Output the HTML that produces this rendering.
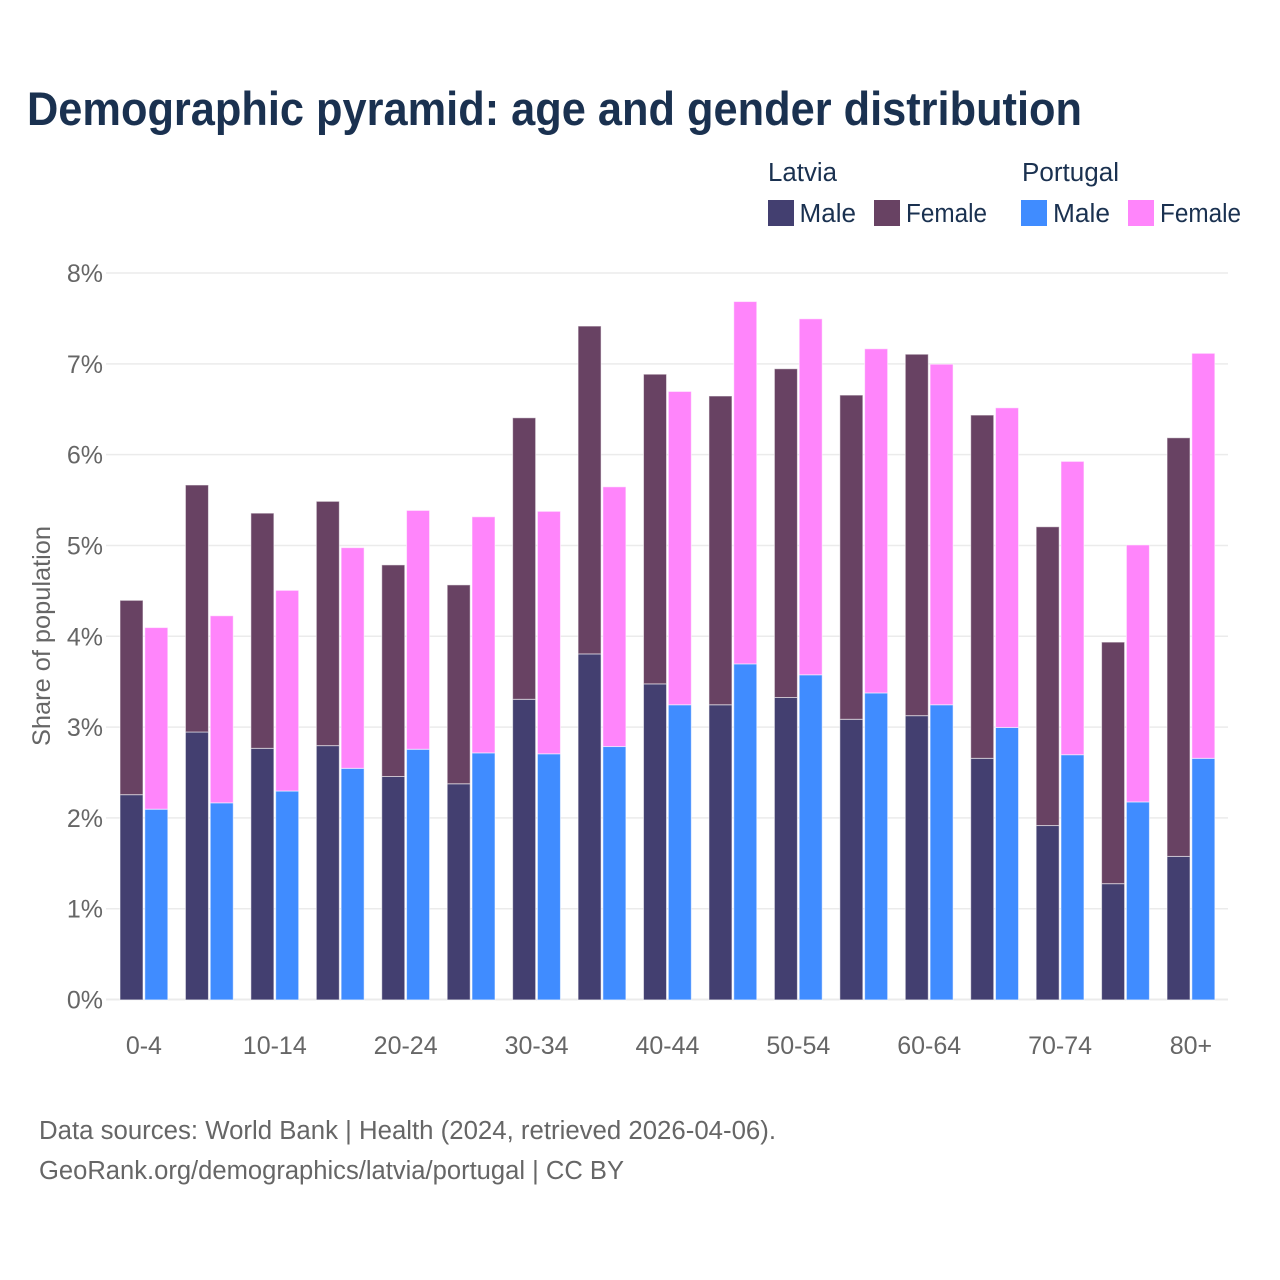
<!DOCTYPE html>
<html lang="en">
<head>
<meta charset="utf-8">
<title>Demographic pyramid</title>
<style>
html,body{margin:0;padding:0;background:#fff;width:1280px;height:1280px;overflow:hidden}
svg{display:block}
text{font-family:"Liberation Sans",sans-serif}
.legend{fill:#1a3150;font-size:25.5px}
.tick{fill:#666;font-size:25px}
.note{fill:#666;font-size:25.5px}
</style>
</head>
<body>
<svg id="chart" xmlns="http://www.w3.org/2000/svg" width="1280" height="1280" viewBox="0 0 1280 1280">
  <rect x="0" y="0" width="1280" height="1280" fill="#ffffff"/>
  <text x="27" y="125" font-size="47" font-weight="700" fill="#1a3150" textLength="1055" lengthAdjust="spacingAndGlyphs">Demographic pyramid: age and gender distribution</text>

  <g>
    <text class="legend" x="768" y="181" textLength="69" lengthAdjust="spacingAndGlyphs">Latvia</text>
    <text class="legend" x="1022" y="181" textLength="97" lengthAdjust="spacingAndGlyphs">Portugal</text>
    <rect x="768" y="200" width="26" height="26" fill="#433f70"/>
    <text class="legend" x="799.5" y="222" textLength="56.5" lengthAdjust="spacingAndGlyphs">Male</text>
    <rect x="874" y="200" width="26" height="26" fill="#684263"/>
    <text class="legend" x="906" y="222" textLength="81" lengthAdjust="spacingAndGlyphs">Female</text>
    <rect x="1021" y="200" width="26" height="26" fill="#408cff"/>
    <text class="legend" x="1053" y="222" textLength="57" lengthAdjust="spacingAndGlyphs">Male</text>
    <rect x="1128" y="200" width="26" height="26" fill="#ff85fb"/>
    <text class="legend" x="1160" y="222" textLength="81" lengthAdjust="spacingAndGlyphs">Female</text>
  </g>

  <g id="grid"></g>
  <g id="bars"></g>
  <g id="yticks"></g>
  <g id="xticks"></g>

  <text class="tick" transform="translate(50,636) rotate(-90)" text-anchor="middle" textLength="220" lengthAdjust="spacingAndGlyphs">Share of population</text>

  <text class="note" x="39" y="1139" textLength="737" lengthAdjust="spacingAndGlyphs">Data sources: World Bank | Health (2024, retrieved 2026-04-06).</text>
  <text class="note" x="39" y="1179" textLength="585" lengthAdjust="spacingAndGlyphs">GeoRank.org/demographics/latvia/portugal | CC BY</text>
</svg>
<script>
const categories = ["0-4","5-9","10-14","15-19","20-24","25-29","30-34","35-39","40-44","45-49","50-54","55-59","60-64","65-69","70-74","75-79","80+"];
const latviaMale = [2.26,2.95,2.77,2.80,2.46,2.38,3.31,3.81,3.48,3.25,3.33,3.09,3.13,2.66,1.92,1.28,1.58];
const latviaFemale = [2.14,2.72,2.59,2.69,2.33,2.19,3.10,3.61,3.41,3.40,3.62,3.57,3.98,3.78,3.29,2.66,4.61];
const portugalMale = [2.10,2.17,2.30,2.55,2.76,2.72,2.71,2.79,3.25,3.70,3.58,3.38,3.25,3.00,2.70,2.18,2.66];
const portugalFemale = [2.00,2.06,2.21,2.43,2.63,2.60,2.67,2.86,3.45,3.99,3.92,3.79,3.75,3.52,3.23,2.83,4.46];
const yTicks = [0,1,2,3,4,5,6,7,8];
const yTickLabels = ["0%","1%","2%","3%","4%","5%","6%","7%","8%"];

const NS = "http://www.w3.org/2000/svg";
const plotLeft = 106, plotRight = 1228, plotBottom = 999.5, plotTop = 273;
const yMax = 8;
const groupStart = 143.9, groupStep = 65.44, barWidth = 23, barOffset = 12.4;
const barNudge = 0.4;

function yScale(v) { return plotBottom - (v / yMax) * (plotBottom - plotTop); }
function xCenter(i) { return groupStart + groupStep * i; }

function make(tag, attrs, parent) {
  const el = document.createElementNS(NS, tag);
  for (const k in attrs) el.setAttribute(k, attrs[k]);
  parent.appendChild(el);
  return el;
}

const grid = document.getElementById("grid");
const yGroup = document.getElementById("yticks");
yTicks.forEach(function (t, i) {
  const line = make("line", {x1: plotLeft, x2: plotRight, y1: yScale(t), y2: yScale(t), stroke: "#ebebeb", "stroke-width": t === 0 ? 2 : 1.5}, grid);
  
  
  const label = make("text", {x: 103, y: yScale(t) + 9, "text-anchor": "end", class: "tick"}, yGroup);
  
  
  label.textContent = yTickLabels[i];
});

const barsGroup = document.getElementById("bars");
function drawBar(cx, v0, v1, fill) {
  const top = yScale(v0 + v1) + barNudge, bottom = yScale(v0) + barNudge;
  const bar = make("rect", {x: cx - barWidth / 2, y: top, width: barWidth, height: bottom - top, fill: fill, stroke: "#ffffff", "stroke-opacity": 0.55, "stroke-width": 1}, barsGroup);
  
  
}
categories.forEach(function (c, i) {
  const cx = xCenter(i);
  drawBar(cx - barOffset, 0, latviaMale[i], "#433f70");
  drawBar(cx - barOffset, latviaMale[i], latviaFemale[i], "#684263");
  drawBar(cx + barOffset, 0, portugalMale[i], "#408cff");
  drawBar(cx + barOffset, portugalMale[i], portugalFemale[i], "#ff85fb");
});

const xGroup = document.getElementById("xticks");
categories.forEach(function (c, i) {
  if (i % 2 !== 0) return;
  const label = make("text", {x: xCenter(i), y: 1054, "text-anchor": "middle", class: "tick"}, xGroup);
  
  
  label.textContent = c;
});
</script>
</body>
</html>
